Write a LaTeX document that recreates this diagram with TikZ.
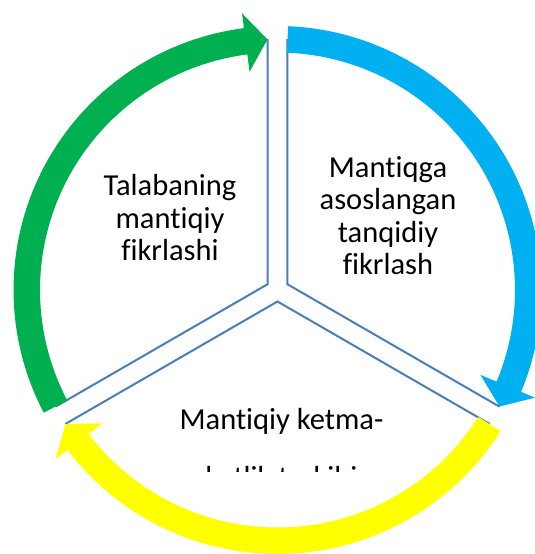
\documentclass[tikz,border=0pt]{standalone}
\usepackage{fontspec}
\setmainfont{Carlito}[Ligatures=NoCommon]
\usetikzlibrary{positioning}
\definecolor{segline}{HTML}{4A7EBB}
\definecolor{arrgreen}{HTML}{00B050}
\definecolor{arrblue}{HTML}{00B0F0}
\definecolor{arryellow}{HTML}{FFFF00}
\tikzset{
  segment/.style={draw=segline,line width=2pt,fill=white},
  cycletext/.style={font=\fontsize{30.5}{32.5}\selectfont,align=center,inner sep=0pt}
}
\newcommand\ringarrow[4]{%
  \fill[#1] (#2:264pt) arc[start angle=#2,end angle=#3,radius=264pt]
    -- (#3:279pt) -- (#4:250.75pt) -- (#3:220pt) -- (#3:237.5pt)
    arc[start angle=#3,end angle=#2,radius=237.5pt] -- cycle;}

\begin{document}
\begin{tikzpicture}[x=1pt,y=1pt]
\useasboundingbox[fill=white] (-277.5,-264) rectangle (257.5,290);

\coordinate (apexL) at (150:11.5pt);
\coordinate (apexR) at (30:11.5pt);
\coordinate (apexB) at (270:11.5pt);

\draw[segment] (apexL) -- ++(90:244pt) arc[start angle=90,end angle=210,radius=244pt] -- cycle;
\draw[segment] (apexR) -- ++(-30:244pt) arc[start angle=-30,end angle=90,radius=244pt] -- cycle;
\draw[segment] (apexB) -- ++(210:244pt) arc[start angle=210,end angle=330,radius=244pt] -- cycle;

\node[cycletext] (talaba) at (-107.5,72.4) {Talabaning\\mantiqiy\\fikrlashi};
\node[cycletext] (mantiq) at (110.5,74.4) {Mantiqga\\asoslangan\\tanqidiy\\fikrlash};
\node[cycletext,anchor=base] (ketma) at (4,-139.3) {Mantiqiy ketma-};
\begin{scope}
\clip (-120,-181.5) rectangle (130,-150);
\node[cycletext,anchor=base] (tarkib) at (4,-197) {ketlik tarkibi};
\end{scope}

\ringarrow{arrgreen}{207.7}{97.3}{92.3}
\ringarrow{arrblue}{87.7}{-22.7}{-27.7}
\ringarrow{arryellow}{-32.3}{-142.7}{-147.7}
\end{tikzpicture}
\end{document}
